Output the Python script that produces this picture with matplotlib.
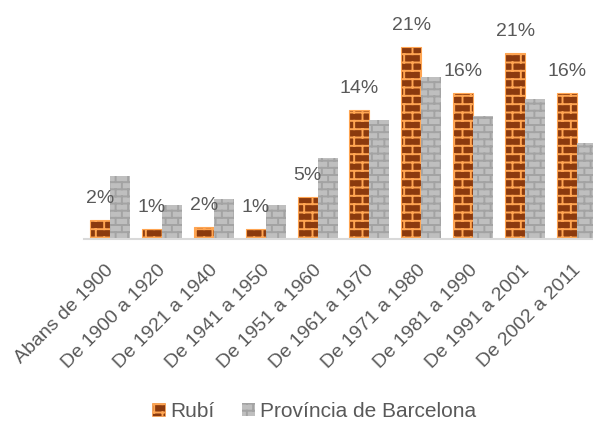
import numpy as np
import matplotlib
matplotlib.use("Agg")
import matplotlib.pyplot as plt
import matplotlib.hatch as mhatch
import matplotlib.patches as mpatches
import matplotlib.transforms as mtransforms
from matplotlib.path import Path

categories = ["Abans de 1900", "De 1900 a 1920", "De 1921 a 1940", "De 1941 a 1950",
              "De 1951 a 1960", "De 1961 a 1970", "De 1971 a 1980", "De 1981 a 1990",
              "De 1991 a 2001", "De 2002 a 2011"]
rubi = [2.1, 1.1, 1.3, 1.1, 4.6, 14.1, 21.0, 16.0, 20.4, 16.0]
barcelona = [6.9, 3.7, 4.4, 3.7, 8.9, 13.0, 17.7, 13.5, 15.3, 10.5]
rubi_labels = ["2%", "1%", "2%", "1%", "5%", "14%", "21%", "16%", "21%", "16%"]
series_names = ["Rubí", "Província de Barcelona"]


class BrickHatch(mhatch.HatchPatternBase):
    def __init__(self, hatch, density):
        if 'B' in hatch:
            self.rows, self.cols = 12, 6
        elif 'b' in hatch:
            self.rows, self.cols = 14, 8
        else:
            self.rows, self.cols = 0, 0
        if self.rows:
            self.num_vertices = self.rows * 2 + (self.rows - 1) * self.cols * 2 + self.cols * 4
        else:
            self.num_vertices = 0

    def set_vertices_and_codes(self, vertices, codes):
        r, c = self.rows, self.cols
        ys = (np.arange(r) + 0.5) / r
        k = 0
        for y in ys:
            vertices[k] = (0.0, y); codes[k] = Path.MOVETO; k += 1
            vertices[k] = (1.0, y); codes[k] = Path.LINETO; k += 1
        for i in range(r - 1):
            for j in range(c):
                x = ((j + 0.25 + 0.5 * (i % 2)) / c) % 1.0
                vertices[k] = (x, ys[i]); codes[k] = Path.MOVETO; k += 1
                vertices[k] = (x, ys[i + 1]); codes[k] = Path.LINETO; k += 1
        i = r - 1
        for j in range(c):
            x = ((j + 0.25 + 0.5 * (i % 2)) / c) % 1.0
            vertices[k] = (x, ys[-1]); codes[k] = Path.MOVETO; k += 1
            vertices[k] = (x, 1.0); codes[k] = Path.LINETO; k += 1
            vertices[k] = (x, 0.0); codes[k] = Path.MOVETO; k += 1
            vertices[k] = (x, ys[0]); codes[k] = Path.LINETO; k += 1


mhatch._hatch_types.append(BrickHatch)
mhatch._validate_hatch_pattern = lambda h: None

plt.rcParams['font.family'] = ['Liberation Sans', 'DejaVu Sans']
plt.rcParams['hatch.linewidth'] = 1.4

text_color = '#595959'
brown, orange = '#8B3A0E', '#FFA552'
gray, gray_dark = '#BFBFBF', '#A3A3A3'
fs = 14

fig = plt.figure(figsize=(5.93, 4.23), dpi=100)
ax = fig.add_axes([84 / 593, 1 - 239 / 423, 519 / 593, 200 / 423])

x = np.arange(len(categories))
w = 0.385
ax.bar(x - w / 2, rubi, w, color=brown, edgecolor=orange, linewidth=0.8, hatch='B')
ax.bar(x + w / 2, barcelona, w, color=gray, edgecolor=gray_dark, linewidth=0.0, hatch='b')

for xi, v, lab in zip(x, rubi, rubi_labels):
    ax.annotate(lab, (xi - w / 2, v), xytext=(0, 12), textcoords='offset points',
                ha='center', va='baseline', fontsize=fs, color=text_color)

ax.set_xlim(-0.5, len(categories) - 0.5)
ax.set_ylim(0, 200 / 9.14)
ax.set_yticks([])
for s in ['left', 'right', 'top']:
    ax.spines[s].set_visible(False)
ax.spines['bottom'].set_color('#D9D9D9')
ax.spines['bottom'].set_linewidth(1.5)
ax.set_xticks(x)
ax.set_xticklabels(categories, rotation=45, ha='right', va='center',
                   rotation_mode='anchor', fontsize=fs, color=text_color)
ax.tick_params(axis='x', length=0, pad=0)
offset = mtransforms.ScaledTranslation(1 / 72, -20.5 / 72, fig.dpi_scale_trans)
for lbl in ax.get_xticklabels():
    lbl.set_transform(lbl.get_transform() + offset)

handles = [mpatches.Patch(facecolor=brown, edgecolor=orange, hatch='B', linewidth=0.5),
           mpatches.Patch(facecolor=gray, edgecolor=gray_dark, hatch='b', linewidth=0)]
leg = fig.legend(handles, series_names, loc='center right', bbox_to_anchor=(476 / 593, 1 - 411 / 423),
                 ncol=2, frameon=False, fontsize=15, handlelength=0.6, handleheight=0.6,
                 handletextpad=0.25, columnspacing=1.35, borderpad=0, borderaxespad=0)
for t in leg.get_texts():
    t.set_color(text_color)

fig.savefig('out.png', dpi=100)
